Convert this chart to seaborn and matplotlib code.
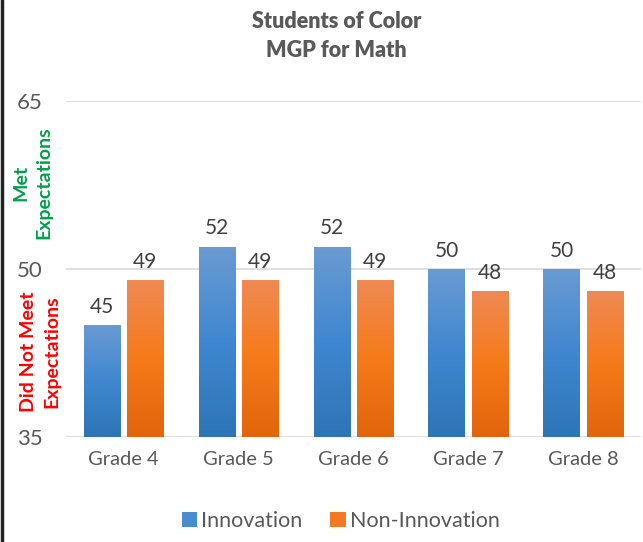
import numpy as np
import pandas as pd
import matplotlib
matplotlib.use('Agg')
import matplotlib.pyplot as plt
import seaborn as sns
from matplotlib.colors import LinearSegmentedColormap
from matplotlib.patches import Patch
from matplotlib.lines import Line2D

# chart data
grades = ['Grade 4', 'Grade 5', 'Grade 6', 'Grade 7', 'Grade 8']
innovation = [45, 52, 52, 50, 50]
non_innovation = [49, 49, 49, 48, 48]
groups = ['Innovation', 'Non-Innovation']
y_ticks = [35, 50, 65]

df = pd.DataFrame({
    'grade': grades * 2,
    'mgp': innovation + non_innovation,
    'group': [groups[0]] * len(grades) + [groups[1]] * len(grades),
})

# gradient stops (top -> bottom) like the office fill
blue_cmap = LinearSegmentedColormap.from_list('blue', ['#2e75b6', '#3f87d0', '#6a9bd2'])
orange_cmap = LinearSegmentedColormap.from_list('orange', ['#e2640c', '#f67a18', '#ef8a54'])
mid_colors = ['#4a8cd0', '#f27a24']

sns.set_theme(style='white')
plt.rcParams['font.family'] = ['Lato', 'DejaVu Sans']

fig = plt.figure(figsize=(6.43, 5.42), dpi=100)
ax = fig.add_axes([0.1026, 0.1937, 0.894, 0.62])

sns.barplot(data=df, x='grade', y='mgp', hue='group', palette=mid_colors,
            width=0.75, gap=0.15, ax=ax, legend=False, saturation=1)

ax.set_ylim(35, 65)
ax.set_yticks(y_ticks)
ax.set_xlim(-0.5, len(grades) - 0.5)
for yv in y_ticks:
    ax.axhline(yv, color='#d9d9d9', lw=1.2, zorder=0)

grad = np.linspace(0, 1, 256).reshape(-1, 1)
for cont, cmap in zip(ax.containers, [blue_cmap, orange_cmap]):
    for bar in cont:
        x0 = bar.get_x()
        x1 = x0 + bar.get_width()
        h = bar.get_height()
        bar.set_facecolor('none')
        bar.set_edgecolor('none')
        im = ax.imshow(grad, cmap=cmap, extent=[x0, x1, 35, h], aspect='auto',
                       origin='lower', zorder=2)
        im.set_clip_path(bar)
    ax.bar_label(cont, fmt='%d', padding=6, fontsize=15, color='#404040')

ax.set_xlabel('')
ax.set_ylabel('')
sns.despine(ax=ax, left=True, bottom=True)
ax.tick_params(axis='both', length=0, colors='#595959')
ax.tick_params(axis='x', labelsize=14.5, pad=10)
ax.tick_params(axis='y', labelsize=16, pad=17)

fig.text(0.523, 0.934, 'Students of Color\nMGP for Math', ha='center', va='center',
         fontsize=15.5, fontweight='heavy', color='#595959', linespacing=1.5)

fig.text(0.05, 1 - 183 / 542, 'Met\nExpectations', rotation=90, ha='center', va='center',
         fontsize=14, fontweight='bold', color='#00a04b', linespacing=1.45)
fig.text(0.062, 1 - 352 / 542, 'Did Not Meet\nExpectations', rotation=90, ha='center', va='center',
         fontsize=14, fontweight='bold', color='#ff0000', linespacing=1.45)

handles = [Patch(facecolor=c, edgecolor='none') for c in mid_colors]
fig.legend(handles, groups, loc='center', bbox_to_anchor=(0.53, 1 - 521 / 542), ncol=2,
           frameon=False, handlelength=0.7, handleheight=0.7, handletextpad=0.2,
           columnspacing=1.3, prop={'size': 15.5}, labelcolor='#595959')

fig.add_artist(Line2D([0.003, 0.003], [0, 1], color='#222222', lw=2.5))

fig.savefig('out.png', dpi=100)
